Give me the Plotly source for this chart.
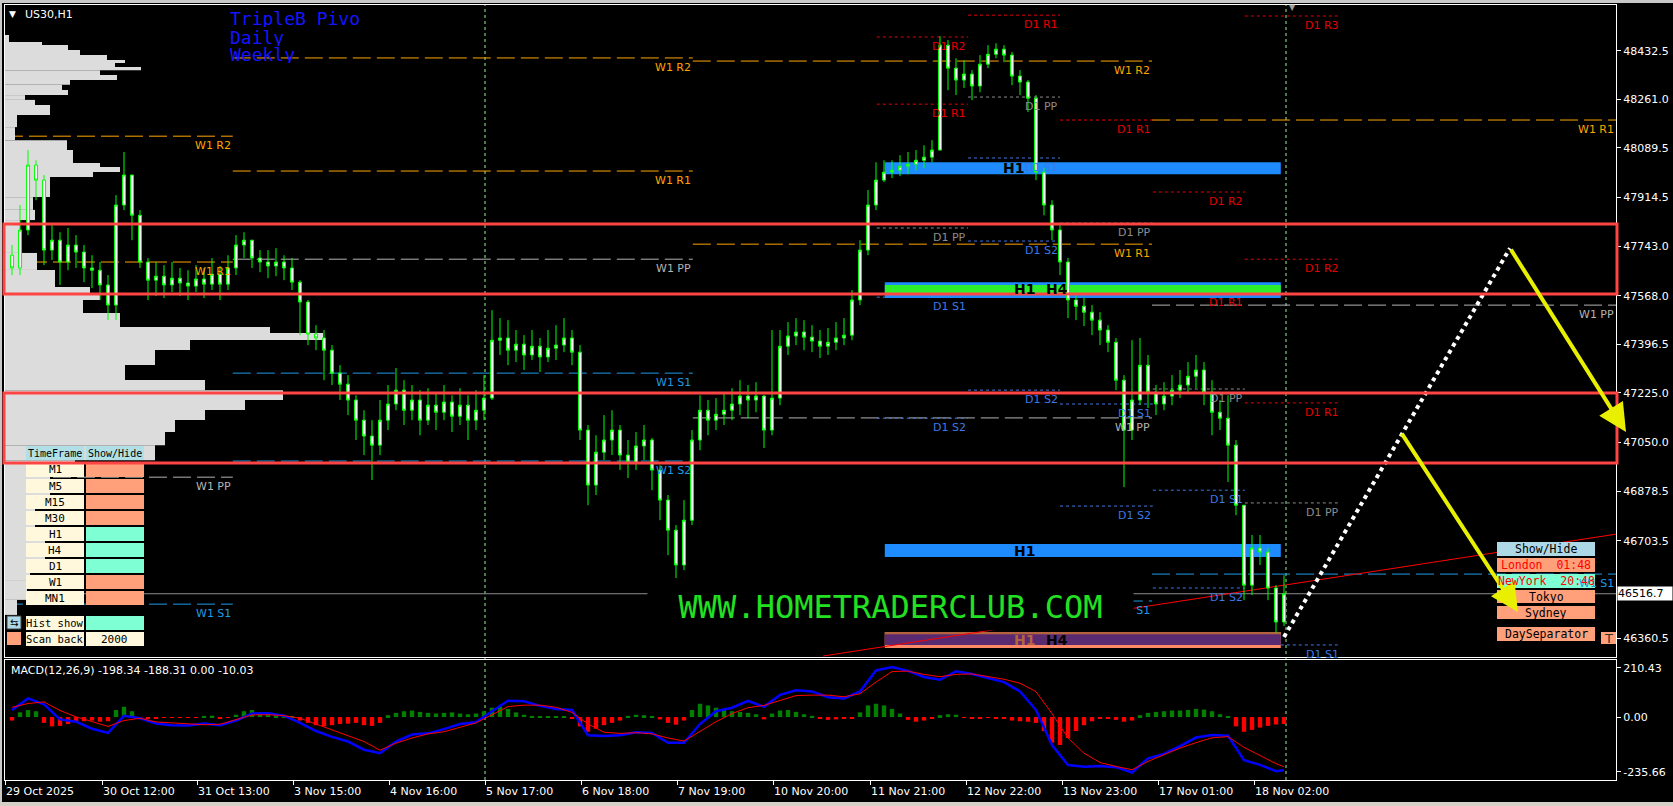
import plotly.graph_objects as go

W, H = 1673, 806
FONT = "DejaVu Sans"
MONO = "DejaVu Sans Mono"

# ---------------- data ----------------
first_open = 47711
close = [47666, 47800, 48029, 47976, 47729, 47764, 47687, 47747, 47722, 47666,
         47658, 47606, 47535, 47888, 47994, 47852, 47687, 47623, 47637, 47606,
         47630, 47613, 47602, 47627, 47609, 47644, 47609, 47666, 47747, 47764,
         47701, 47687, 47673, 47687, 47666, 47616, 47546, 47433, 47419, 47376,
         47295, 47256, 47200, 47129, 47073, 47041, 47129, 47186, 47235, 47164,
         47200, 47129, 47182, 47157, 47193, 47143, 47182, 47129, 47164, 47207,
         47411, 47419, 47376, 47397, 47359, 47390, 47352, 47383, 47394, 47419,
         47369, 47094, 46900, 47016, 47059, 47094, 47006, 46981, 47038, 47059,
         46953, 46847, 46741, 46618, 46776, 47059, 47164, 47129, 47150, 47164,
         47186, 47214, 47200, 47214, 47094, 47207, 47390, 47426, 47440, 47422,
         47408, 47390, 47404, 47419, 47429, 47553, 47729, 47888, 47976, 48004,
         48011, 48025, 48032, 48046, 48057, 48082, 48452, 48371, 48329, 48350,
         48308, 48385, 48420, 48438, 48417, 48343, 48322, 48265, 48004, 47888,
         47800, 47687, 47553, 47531, 47510, 47482, 47447, 47404, 47270, 47094,
         47200, 47323, 47228, 47186, 47214, 47235, 47253, 47284, 47306, 47228,
         47157, 47136, 47041, 46829, 46547, 46678, 46664, 46537, 46417, 46516.7]
high = [47747, 47888, 48082, 48046, 47994, 47817, 47792, 47807, 47782, 47747,
        47711, 47687, 47641, 47923, 48075, 47976, 47870, 47701, 47687, 47676,
        47687, 47666, 47658, 47676, 47666, 47701, 47673, 47711, 47782, 47792,
        47764, 47729, 47729, 47736, 47711, 47701, 47623, 47553, 47464, 47447,
        47394, 47323, 47288, 47217, 47164, 47129, 47200, 47253, 47313, 47270,
        47253, 47235, 47242, 47228, 47253, 47217, 47242, 47217, 47235, 47288,
        47517, 47489, 47482, 47447, 47429, 47447, 47419, 47447, 47464, 47489,
        47447, 47394, 47112, 47076, 47147, 47164, 47112, 47059, 47087, 47112,
        47066, 46970, 46865, 46759, 46847, 47094, 47217, 47200, 47207, 47228,
        47242, 47270, 47253, 47263, 47217, 47447, 47447, 47475, 47489, 47482,
        47464, 47447, 47454, 47475, 47489, 47588, 47764, 47941, 48039, 48046,
        48046, 48064, 48075, 48082, 48099, 48117, 48484, 48470, 48406, 48399,
        48364, 48417, 48452, 48459, 48452, 48428, 48364, 48329, 48276, 48018,
        47905, 47817, 47701, 47581, 47560, 47535, 47510, 47464, 47419, 47288,
        47411, 47419, 47359, 47253, 47263, 47288, 47306, 47334, 47359, 47334,
        47270, 47200, 47217, 47059, 46829, 46724, 46724, 46678, 46547, 46582]
low = [47641, 47641, 47782, 47905, 47676, 47694, 47606, 47658, 47666, 47616,
       47595, 47553, 47482, 47482, 47870, 47764, 47666, 47553, 47567, 47560,
       47581, 47567, 47553, 47581, 47560, 47588, 47553, 47588, 47641, 47701,
       47666, 47651, 47630, 47637, 47623, 47588, 47429, 47394, 47376, 47270,
       47253, 47200, 47147, 47059, 47006, 46918, 47006, 47094, 47164, 47112,
       47129, 47076, 47112, 47094, 47129, 47087, 47112, 47059, 47094, 47129,
       47200, 47359, 47323, 47334, 47306, 47341, 47299, 47334, 47341, 47369,
       47323, 47059, 46829, 46865, 46988, 47006, 46953, 46925, 46953, 46988,
       46882, 46776, 46653, 46572, 46600, 46759, 47023, 47076, 47094, 47112,
       47129, 47147, 47136, 47157, 47031, 47076, 47182, 47359, 47394, 47376,
       47369, 47348, 47359, 47376, 47394, 47411, 47535, 47711, 47870, 47969,
       47983, 47990, 47997, 48011, 48018, 48039, 48082, 48293, 48276, 48301,
       48258, 48286, 48371, 48406, 48392, 48311, 48276, 48216, 47976, 47852,
       47764, 47641, 47489, 47482, 47461, 47429, 47394, 47369, 47235, 46893,
       47059, 47182, 47172, 47147, 47164, 47182, 47207, 47228, 47242, 47182,
       47076, 47094, 46911, 46794, 46494, 46512, 46618, 46494, 46378, 46403]

macd_line = [30, 80, 55, -10, -20, -50, -68, 5, -5, -28,
             -35, -36, -28, -35, -15, 15, 16, 6, -25, -60,
             -85, -105, -140, -155, -105, -75, -70, -52, -30, -22,
             25, 70, 68, 48, 35, 30, -78, -81, -78, -65,
             -68, -110, -110, -30, 25, 40, 69, 44, 95, 115,
             110, 85, 80, 110, 200, 215, 198, 172, 160, 196,
             185, 168, 150, 110, 30, -120, -206, -213, -210, -215,
             -238, -177, -158, -125, -88, -77, -80, -185, -205, -232, -228]
signal_line = [42, 58, 65, 28, 1, -18, -40, -15, -5, -21,
               -25, -31, -33, -31, -10, 9, 10, 6, -5, -30,
               -55, -78, -105, -142, -112, -90, -72, -63, -45, -25,
               10, 45, 51, 51, 42, 20, -30, -65, -70, -67,
               -72, -90, -103, -60, -20, 15, 40, 50, 70, 92,
               94, 94, 87, 100, 150, 195, 197, 183, 173, 183,
               185, 175, 162, 145, 109, 15, -90, -155, -195, -212,
               -226, -190, -160, -133, -110, -89, -84, -130, -165, -200, -213]
osma = [-15, 20, 30, 25, -25, -40, -38, -30, -20, -18,
        -15, -20, -18, 30, 44, 25, -5, -6, -5, -4,
        -3, -2, -3, -2, 5, 6, -5, -3, 10, 25,
        30, 20, 12, 8, 5, 2, -15, -25, -35, -40,
        -35, -30, -28, -25, -35, -38, -25, 8, 18, 25,
        28, 22, 18, 15, 18, 20, 15, 12, 15, 25,
        40, 44, 35, 20, 10, 5, 3, 2, 3, 2,
        -5, -40, -63, -50, -35, -25, -15, 5, 10, 8,
        3, -10, -25, -33, -15, 30, 57, 50, 40, 30,
        25, 22, 18, 12, -10, 15, 28, 30, 22, 12,
        5, -8, -12, -10, -8, -5, 20, 50, 57, 50,
        35, 15, -12, -20, -15, -8, 8, 12, 10, -3,
        -5, -5, -4, -5, -8, -15, -18, -20, -25, -60,
        -110, -120, -90, -60, -35, -18, -8, -6, -12, -20,
        -15, 8, 18, 22, 25, 28, 28, 30, 35, 32,
        25, 12, 3, -40, -63, -55, -45, -38, -32, -30]

# volume profile (price bin edges, top to bottom) and volumes
vp_edges = [48488, 48463, 48453, 48435, 48417, 48400, 48389, 48375, 48364, 48347,
            48329, 48312, 48294, 48276, 48259, 48241, 48223, 48206, 48163, 48117,
            48082, 48036, 48022, 48005, 47987, 47916, 47871, 47835, 47719, 47659,
            47599, 47578, 47553, 47507, 47458, 47437, 47412, 47377, 47324, 47271,
            47235, 47200, 47165, 47130, 47087, 47041, 46988, 46953, 46847, 46706,
            46636, 46565, 46495, 46442]
vp_vol = [4, 37, 63, 75, 102, 120, 110, 136, 95, 112,
          65, 57, 63, 20, 30, 45, 45, 12, 10, 62,
          68, 95, 115, 88, 45, 28, 30, 15, 32, 50,
          85, 95, 78, 115, 265, 318, 185, 150, 120, 200,
          278, 240, 200, 170, 160, 150, 70, 45, 30, 40,
          25, 22, 12]

time_tick_pos = [-0.875, 11.25, 23.125, 35.125, 47.125, 59.125, 71.125, 83.125,
                 95.125, 107.25, 119.25, 131.25, 143.25, 155.25]
time_tick_text = ["29 Oct 2025", "30 Oct 12:00", "31 Oct 13:00", "3 Nov 15:00",
                  "4 Nov 16:00", "5 Nov 17:00", "6 Nov 18:00", "7 Nov 19:00",
                  "10 Nov 20:00", "11 Nov 21:00", "12 Nov 22:00", "13 Nov 23:00",
                  "17 Nov 01:00", "18 Nov 02:00"]
price_ticks = [48432.5, 48261.0, 48089.5, 47914.5, 47743.0, 47568.0, 47396.5,
               47225.0, 47050.0, 46878.5, 46703.5, 46360.5]
macd_ticks = [210.43, 0.00, -235.66]

# weekly pivots (4 weeks)
week_bounds = [-0.875, 27.6, 85.1, 142.5, 200.5]
w_r2 = [48131, 48407, 48396, None]
w_r1 = [47687, 48008, 47750, 48188]
w_pp = [46928, 47697, 47137, 47535]
w_s1 = [46480, 47295, 46491, 46586]
w_s2 = [None, 46985, None, None]

# daily pivots (5 days)
day_bounds = [108.1, 119.5, 131.0, 142.6, 154.1, 166.1]
d_r3 = [None, None, None, None, 48555]
d_r2 = [48481, None, None, 47934, 47697]
d_r1 = [48244, 48558, 48188, 47577, 47190]
d_pp = [47807, 48269, 47824, 47239, 46837]
d_s1 = [47563, 48054, 47186, 46882, 46336]
d_s2 = [47136, 47761, 46826, 46537, None]
d_s2b = [None, 47235, None, None, None]

# supply / demand zones
zone_x = [109.1, 158.6]
zone_h1_a = [48039, 47997]
zone_h1_b = [47616, 47560]
zone_h4_b = [47606, 47577]
zone_h1_c = [46692, 46646]
zone_h1_d = [46382, 46325]
zone_h4_d = [46374, 46336]
zone_label_x = [126.6, 130.6, 125.2]

red_zone_top = [47821, 47225]
red_zone_bot = [47574, 46978]

arrow1 = [(187.25, 47736), (201.75, 47087)]
arrow2 = [(173.6, 47087), (188.25, 46452)]
dotted_path = [(159.0, 46364), (187.25, 47736)]
trend_line = [(101.4, 46297), (200.5, 46727)]
vlines = [59.125, 159.25]

tf_names = ["M1", "M5", "M15", "M30", "H1", "H4", "D1", "W1", "MN1"]
tf_on = [0, 0, 0, 0, 1, 1, 1, 0, 0]
sessions = ["Show/Hide", "London  01:48", "NewYork  20:48", "Tokyo", "Sydney", "DaySeparator"]

# ---------------- geometry ----------------
XR = [-0.875, 200.5]
P_RANGE = [46293.5, 48593.8]
M_RANGE = [-270.0, 244.7]
VP_SCALE = 1 / 8.0


def px_x(x):
    return x / W


def px_y(y):
    return 1 - y / H


shapes = []
annotations = []


def seg(x0, x1, y, color, dash, width=1, layer="below"):
    shapes.append(dict(type="line", xref="x", yref="y", x0=x0, x1=x1, y0=y, y1=y,
                       line=dict(color=color, width=width, dash=dash), layer=layer))


def drect(x0, x1, y0, y1, fill, layer="below"):
    shapes.append(dict(type="rect", xref="x", yref="y", x0=x0, x1=x1, y0=y0, y1=y1,
                       fillcolor=fill, line=dict(width=0), layer=layer))


def prect(x0, y0, x1, y1, fill, line=None, layer="above"):
    shapes.append(dict(type="rect", xref="paper", yref="paper",
                       x0=px_x(x0), x1=px_x(x1), y0=px_y(y1), y1=px_y(y0),
                       fillcolor=fill,
                       line=dict(width=0) if line is None else dict(color=line, width=1),
                       layer=layer))


def ptext(x, y, text, size, color, family=FONT, xanchor="center", **kw):
    annotations.append(dict(xref="paper", yref="paper", x=px_x(x), y=px_y(y), text=text,
                            showarrow=False, xanchor=xanchor, yanchor="middle",
                            font=dict(size=size, color=color, family=family), **kw))


def dlabel(x, y, text, color):
    annotations.append(dict(xref="x", yref="y", x=x, y=y, text=text, showarrow=False,
                            xanchor="right", yanchor="top", yshift=-1,
                            font=dict(size=11, color=color, family=FONT)))


fig = go.Figure()

# volume profile
vp_c = [(vp_edges[i] + vp_edges[i + 1]) / 2 for i in range(len(vp_vol))]
vp_h = [vp_edges[i] - vp_edges[i + 1] for i in range(len(vp_vol))]
fig.add_trace(go.Bar(y=vp_c, x=[v * VP_SCALE for v in vp_vol], width=vp_h, base=XR[0],
                     orientation="h", marker=dict(color="#dcdcdc", line=dict(width=0)),
                     xaxis="x", yaxis="y", hoverinfo="skip", showlegend=False))

# candles
idx = list(range(len(close)))
opens = [first_open] + close[:-1]
hi = [max(h, o, c) for h, o, c in zip(high, opens, close)]
lo = [min(l, o, c) for l, o, c in zip(low, opens, close)]
fig.add_trace(go.Candlestick(x=idx, open=opens, high=hi, low=lo, close=close,
                             increasing=dict(line=dict(color="#00ff00", width=1), fillcolor="#ffffff"),
                             decreasing=dict(line=dict(color="#00ff00", width=1), fillcolor="#ffffff"),
                             whiskerwidth=0, xaxis="x", yaxis="y", hoverinfo="skip",
                             showlegend=False))

# MACD panel
fig.add_trace(go.Bar(x=idx, y=osma, width=0.55,
                     marker=dict(color=["#008000" if v >= 0 else "#ff0000" for v in osma],
                                 line=dict(width=0)),
                     xaxis="x2", yaxis="y2", hoverinfo="skip", showlegend=False))
macd_x = list(range(0, len(close), 2)) + [len(close) - 1]
fig.add_trace(go.Scatter(x=macd_x, y=macd_line, mode="lines",
                         line=dict(color="#0000ff", width=2.5),
                         xaxis="x2", yaxis="y2", hoverinfo="skip", showlegend=False))
fig.add_trace(go.Scatter(x=macd_x, y=signal_line, mode="lines",
                         line=dict(color="#ff0000", width=1),
                         xaxis="x2", yaxis="y2", hoverinfo="skip", showlegend=False))

# ---- weekly pivots
WR, WP, WS = "#ffa500", "#b4b4b4", "#1e9be6"
for name, vals, col in [("W1 R2", w_r2, WR), ("W1 R1", w_r1, WR), ("W1 PP", w_pp, WP),
                        ("W1 S1", w_s1, WS), ("W1 S2", w_s2, WS)]:
    for i, v in enumerate(vals):
        if v is None:
            continue
        seg(week_bounds[i], week_bounds[i + 1], v, col, "18px,6px")
        dlabel(week_bounds[i + 1], v, name, col)

# ---- daily pivots
DR, DP, DS = "#e60000", "#8c8c8c", "#3c78e6"
for name, vals, col in [("D1 R3", d_r3, DR), ("D1 R2", d_r2, DR), ("D1 R1", d_r1, DR),
                        ("D1 PP", d_pp, DP), ("D1 S1", d_s1, DS), ("D1 S2", d_s2, DS),
                        ("D1 S2", d_s2b, DS)]:
    for i, v in enumerate(vals):
        if v is None:
            continue
        seg(day_bounds[i], day_bounds[i + 1], v, col, "3px,3px")
        dlabel(day_bounds[i + 1], v, name, col)

# bid line
seg(XR[0], XR[1], close[-1], "#8c8c8c", "solid")

# zones
drect(zone_x[0], zone_x[1], zone_h1_a[1], zone_h1_a[0], "#1e8cff")
drect(zone_x[0], zone_x[1], zone_h1_b[1], zone_h1_b[0], "#1e8cff")
drect(zone_x[0], zone_x[1], zone_h4_b[1], zone_h4_b[0], "#2cf02c")
drect(zone_x[0], zone_x[1], zone_h1_c[1], zone_h1_c[0], "#1e8cff")
drect(zone_x[0], zone_x[1], zone_h1_d[1], zone_h1_d[0], "#ff8866")
drect(zone_x[0], zone_x[1], zone_h4_d[1], zone_h1_d[0], "#b4643c")
drect(zone_x[0], zone_x[1], zone_h4_d[1], zone_h4_d[0], "#5a2a70")

# trend line, dotted path, vertical separators
shapes.append(dict(type="line", xref="x", yref="y", x0=trend_line[0][0], y0=trend_line[0][1],
                   x1=trend_line[1][0], y1=trend_line[1][1],
                   line=dict(color="#ff0000", width=1), layer="below"))
shapes.append(dict(type="line", xref="x", yref="y", x0=dotted_path[0][0], y0=dotted_path[0][1],
                   x1=dotted_path[1][0], y1=dotted_path[1][1],
                   line=dict(color="#ffffff", width=4, dash="dot"), layer="above"))
for vx in vlines:
    shapes.append(dict(type="line", xref="x", yref="paper", x0=vx, x1=vx,
                       y0=px_y(780), y1=px_y(5),
                       line=dict(color="#98f098", width=1, dash="3px,3px"), layer="below"))

# left timeframe table
prect(26, 446, 84, 460, "#b0e0e6")
prect(86, 446, 144, 460, "#b0e0e6")
for i, (nm, on) in enumerate(zip(tf_names, tf_on)):
    top = 463 + 16 * i
    prect(26, top, 84, top + 14, "#fff8dc")
    prect(86, top, 144, top + 14, "#7fffd4" if on else "#ffa07a")
prect(26, 616, 84, 630, "#fff8dc")
prect(86, 616, 144, 630, "#7fffd4")
prect(26, 632, 84, 646, "#fff8dc")
prect(86, 632, 144, 646, "#fff8dc")
prect(7, 616, 21, 629, "#add8e6", line="#404040")
prect(7, 632, 21, 645, "#ffa07a")

# red zone rectangles (on top; they run from the left frame to the right frame)
for t, b in zip(red_zone_top, red_zone_bot):
    shapes.append(dict(type="rect", xref="paper", yref="y", x0=px_x(4), x1=px_x(1617),
                       y0=b, y1=t,
                       line=dict(color="#ff4444", width=3), fillcolor="rgba(0,0,0,0)",
                       layer="above"))

# session panel
sess_rows = [(542, 556, "#add8e6", "#000000"), (558, 572, "#ffa07a", "#ff0000"),
             (574, 588, "#7fffd4", "#ff0000"), (590, 603, "#ffa07a", "#000000"),
             (606, 619, "#ffa07a", "#000000"), (627, 641, "#ffa07a", "#000000")]
for (y0, y1, bg, fc), txt in zip(sess_rows, sessions):
    prect(1497, y0, 1595, y1, bg)
prect(1601, 632, 1616, 644, "#ffa07a")

# window frame strips
prect(0, 0, W, 3, "#c8c8c8")
prect(0, 0, 2, H, "#c8c8c8")
prect(0, 802, W, H, "#d4d0c8")

# zone labels
for yv, txt, col, xi in [(sum(zone_h1_a) / 2, "H1", "#000000", 2),
                         (sum(zone_h4_b) / 2, "H1", "#000000", 0),
                         (sum(zone_h4_b) / 2, "H4", "#000000", 1),
                         (sum(zone_h1_c) / 2, "H1", "#000000", 0),
                         (sum(zone_h4_d) / 2, "H1", "#b4643c", 0),
                         (sum(zone_h4_d) / 2, "H4", "#000000", 1)]:
    annotations.append(dict(xref="x", yref="y", x=zone_label_x[xi], y=yv, text="<b>%s</b>" % txt,
                            showarrow=False, xanchor="center", yanchor="middle",
                            font=dict(size=14, color=col, family=FONT)))

# arrows
for tail, head in [arrow1, arrow2]:
    annotations.append(dict(xref="x", yref="y", axref="x", ayref="y",
                            x=head[0], y=head[1], ax=tail[0], ay=tail[1], text="",
                            showarrow=True, arrowhead=2, arrowsize=1.4, arrowwidth=4,
                            arrowcolor="#e8f000"))

# watermark with black box
annotations.append(dict(xref="paper", yref="paper", x=px_x(890), y=px_y(606),
                        text="WWW.HOMETRADERCLUB.COM", showarrow=False,
                        xanchor="center", yanchor="middle", width=485, height=47,
                        bgcolor="#000000", borderpad=0, valign="middle",
                        font=dict(size=32, color="#22e022", family=MONO)))

# table texts
ptext(55, 453, "TimeFrame", 10, "#000000", MONO)
ptext(115, 453, "Show/Hide", 10, "#000000", MONO)
for i, nm in enumerate(tf_names):
    ptext(55, 470 + 16 * i, nm, 11, "#000000", MONO)
ptext(55, 623, "Hist show", 10.5, "#000000", MONO)
ptext(55, 639, "Scan back", 10.5, "#000000", MONO)
ptext(115, 639, "2000", 11, "#000000", MONO)
ptext(14, 622.5, "⇆", 10, "#000000", FONT)

# session texts
for (y0, y1, bg, fc), txt in zip(sess_rows, sessions):
    ptext(1546, (y0 + y1) / 2, txt, 11.5, fc, MONO)
ptext(1608.5, 638, "T", 13, "#303030", FONT)

# header texts
ptext(12, 14, "▼", 9, "#ffffff")
ptext(23, 14, "US30,H1", 11, "#ffffff", xanchor="left")
ptext(229, 19, "TripleB Pivo", 18, "#1414ff", MONO, xanchor="left", height=17, borderpad=0)
ptext(229, 37, "Daily", 18, "#1414ff", MONO, xanchor="left", height=17, borderpad=0)
ptext(229, 54.5, "Weekly", 18, "#1414ff", MONO, xanchor="left", height=17, borderpad=0)
ptext(1292, 7, "▼", 8, "#a0a0a0")
ptext(9, 670, "MACD(12,26,9) -198.34 -188.31 0.00 -10.03", 11, "#ffffff", xanchor="left")

# time axis labels
for pos, txt in zip(time_tick_pos, time_tick_text):
    annotations.append(dict(xref="x2", yref="paper", x=pos, y=px_y(791), text=txt,
                            showarrow=False, xanchor="left", yanchor="middle", xshift=-1,
                            font=dict(size=11, color="#ffffff", family=FONT)))

# current price label
annotations.append(dict(xref="paper", yref="y", x=px_x(1617), y=close[-1],
                        text="%.1f" % close[-1], showarrow=False, xanchor="left",
                        yanchor="middle", bgcolor="#ffffff", width=54, height=13,
                        borderpad=0, align="left",
                        font=dict(size=11, color="#000000", family=FONT)))

axis_common = dict(showgrid=False, zeroline=False, showline=True, linecolor="#ffffff",
                   linewidth=1, mirror=True, fixedrange=True)
fig.update_layout(
    width=W, height=H, autosize=False,
    margin=dict(l=0, r=0, t=0, b=0),
    paper_bgcolor="#000000", plot_bgcolor="#000000",
    showlegend=False, barmode="overlay", boxgap=0.45,
    xaxis=dict(domain=[5 / W, 1616 / W], range=XR, showticklabels=False, ticks="",
               anchor="y", rangeslider=dict(visible=False), **axis_common),
    yaxis=dict(domain=[1 - 657 / H, 1 - 5 / H], range=P_RANGE, side="right", anchor="x",
               tickvals=price_ticks, ticktext=["%.1f" % v for v in price_ticks],
               ticks="outside", ticklen=4, tickcolor="#ffffff",
               tickfont=dict(color="#ffffff", size=11, family=FONT), **axis_common),
    xaxis2=dict(domain=[5 / W, 1616 / W], range=XR, showticklabels=False, anchor="y2",
                tickvals=time_tick_pos, ticks="outside", ticklen=4, tickcolor="#ffffff",
                **axis_common),
    yaxis2=dict(domain=[1 - 780 / H, 1 - 660 / H], range=M_RANGE, side="right", anchor="x2",
                tickvals=macd_ticks, ticktext=["210.43", "0.00", "-235.66"],
                ticks="outside", ticklen=4, tickcolor="#ffffff",
                tickfont=dict(color="#ffffff", size=11, family=FONT), **axis_common),
    shapes=shapes, annotations=annotations,
)

fig.write_html("out.html", config={"displayModeBar": False},
               post_script="document.body.style.margin='0';document.body.style.overflow='hidden';")
